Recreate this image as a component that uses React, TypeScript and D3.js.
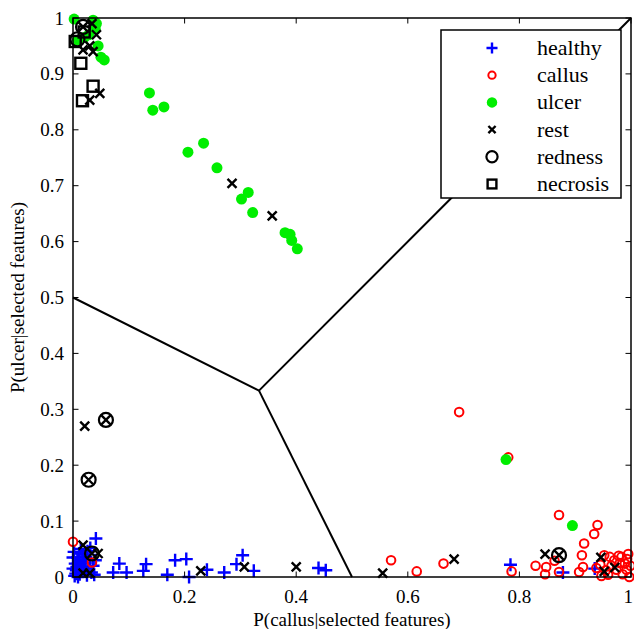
import * as d3 from "d3";

type Pt = [number, number];

const healthy: Pt[] = [
  [0.041, 0.069], [0.083, 0.024], [0.072, 0.008], [0.096, 0.008], [0.131, 0.023],
  [0.126, 0.011], [0.169, 0.004], [0.183, 0.03], [0.203, 0.032], [0.208, 0.0],
  [0.24, 0.013], [0.271, 0.008], [0.293, 0.023], [0.304, 0.039], [0.324, 0.011],
  [0.44, 0.016], [0.453, 0.012], [0.784, 0.022], [0.878, 0.008], [0.935, 0.015],
  [0.003, 0.002], [0.006, 0.012], [0.004, 0.024], [0.008, 0.035], [0.012, 0.005],
  [0.015, 0.018], [0.01, 0.028], [0.018, 0.04], [0.02, 0.01], [0.022, 0.025],
  [0.025, 0.003], [0.028, 0.015], [0.03, 0.032], [0.033, 0.008], [0.036, 0.02],
  [0.002, 0.045], [0.014, 0.05], [0.026, 0.046], [0.038, 0.004], [0.007, 0.018],
  [0.017, 0.031], [0.011, 0.042], [0.031, 0.052], [0.04, 0.03], [0.005, 0.006],
  [0.0, 0.015], [0.0, 0.035], [0.013, 0.022], [0.023, 0.036], [0.009, 0.0],
];

const callus: Pt[] = [
  [0.0, 0.063], [0.034, 0.026], [0.57, 0.03], [0.616, 0.01], [0.664, 0.024],
  [0.692, 0.295], [0.78, 0.214], [0.786, 0.01], [0.829, 0.02], [0.848, 0.018],
  [0.846, 0.005], [0.863, 0.029], [0.871, 0.009], [0.871, 0.111], [0.94, 0.093],
  [0.934, 0.077], [0.916, 0.06], [0.912, 0.039], [0.914, 0.018], [0.907, 0.009],
  [0.962, 0.036], [0.952, 0.039], [0.997, 0.0], [0.983, 0.036], [0.995, 0.041],
  [0.989, 0.024], [0.992, 0.013], [0.974, 0.013], [0.947, 0.002], [0.938, 0.016],
  [0.959, 0.004], [0.98, 0.025], [0.965, 0.02], [0.985, 0.005], [0.97, 0.03],
  [0.999, 0.02], [0.955, 0.012], [0.978, 0.038], [0.993, 0.032], [0.945, 0.022],
];

const ulcer: Pt[] = [
  [0.002, 0.998], [0.036, 0.996], [0.042, 0.99], [0.04, 0.98], [0.02, 0.965],
  [0.045, 0.95], [0.05, 0.93], [0.056, 0.925], [0.008, 0.96], [0.028, 0.97],
  [0.137, 0.866], [0.143, 0.835], [0.163, 0.841], [0.206, 0.76], [0.234, 0.776],
  [0.258, 0.732], [0.314, 0.688], [0.302, 0.676], [0.322, 0.652], [0.38, 0.616],
  [0.389, 0.613], [0.392, 0.602], [0.402, 0.587], [0.776, 0.21], [0.895, 0.092],
];

const rest: Pt[] = [
  [0.042, 0.97], [0.034, 0.99], [0.018, 0.943], [0.036, 0.94], [0.03, 0.95],
  [0.048, 0.865], [0.03, 0.853], [0.018, 0.984], [0.285, 0.704], [0.357, 0.646],
  [0.021, 0.27], [0.059, 0.281], [0.028, 0.174], [0.018, 0.057], [0.045, 0.042],
  [0.034, 0.042], [0.018, 0.007], [0.03, 0.007], [0.229, 0.011], [0.307, 0.018],
  [0.4, 0.018], [0.555, 0.007], [0.683, 0.032], [0.846, 0.041], [0.871, 0.039],
  [0.946, 0.035], [0.952, 0.01], [0.971, 0.017],
];

const redness: Pt[] = [
  [0.018, 0.984], [0.008, 0.962], [0.059, 0.281], [0.028, 0.174], [0.034, 0.042],
  [0.871, 0.039],
];

const necrosis: Pt[] = [
  [0.014, 0.919], [0.036, 0.878], [0.017, 0.852], [0.004, 0.958], [0.02, 0.975],
];

const boundaries: [Pt, Pt][] = [
  [[0, 0.5], [1 / 3, 1 / 3]],
  [[1 / 3, 1 / 3], [0.5, 0]],
  [[1 / 3, 1 / 3], [1, 1]],
];

const xTicks = [0, 0.2, 0.4, 0.6, 0.8, 1];
const yTicks = [0, 0.1, 0.2, 0.3, 0.4, 0.5, 0.6, 0.7, 0.8, 0.9, 1];
const legendNames = ["healthy", "callus", "ulcer", "rest", "redness", "necrosis"];

const W = 634;
const H = 629;
const margin = { top: 18, right: 3, bottom: 52, left: 73 };
const font = "Liberation Serif, Times New Roman, Times, DejaVu Serif, serif";

function Marker({ kind, x, y, s = 1 }: { kind: string; x: number; y: number; s?: number }) {
  if (kind === "healthy") {
    const r = 6.5 * s;
    return (
      <path d={`M${x - r},${y}H${x + r}M${x},${y - r}V${y + r}`} stroke="#0000ff" strokeWidth={2.4} fill="none" />
    );
  }
  if (kind === "callus") {
    return <circle cx={x} cy={y} r={4.3 * s} stroke="#ff0000" strokeWidth={2} fill="none" />;
  }
  if (kind === "ulcer") {
    return <circle cx={x} cy={y} r={5.5 * s} fill="#00ee00" />;
  }
  if (kind === "rest") {
    const r = 4.5 * s;
    return (
      <path d={`M${x - r},${y - r}L${x + r},${y + r}M${x - r},${y + r}L${x + r},${y - r}`} stroke="#000" strokeWidth={2.4} fill="none" />
    );
  }
  if (kind === "redness") {
    return <circle cx={x} cy={y} r={7 * s} stroke="#000" strokeWidth={2.2} fill="none" />;
  }
  const r = 5.5 * s;
  return <rect x={x - r} y={y - r} width={2 * r} height={2 * r} stroke="#000" strokeWidth={2.4} fill="none" />;
}

export default function App() {
  const x = d3.scaleLinear().domain([0, 1]).range([margin.left, W - margin.right]);
  const y = d3.scaleLinear().domain([0, 1]).range([H - margin.bottom, margin.top]);
  const line = d3.line<Pt>().x((d) => x(d[0])).y((d) => y(d[1]));
  const tl = 5.5;

  const series: [string, Pt[]][] = [
    ["healthy", healthy],
    ["callus", callus],
    ["ulcer", ulcer],
    ["rest", rest],
    ["redness", redness],
    ["necrosis", necrosis],
  ];

  const lg = { x: 441, y: 30, w: 180, h: 168 };
  const legendScale: Record<string, number> = {
    healthy: 0.85, callus: 0.85, ulcer: 0.95, rest: 0.8, redness: 0.8, necrosis: 0.8,
  };

  return (
    <svg width={W} height={H} style={{ position: "absolute", left: 0, top: 0, background: "#fff", fontFamily: font }}>
      <rect width={W} height={H} fill="#fff" />
      {boundaries.map((b, i) => (
        <path key={i} d={line(b) || ""} stroke="#000" strokeWidth={2} fill="none" />
      ))}
      {series.map(([name, pts]) => (
        <g key={name}>
          {pts.map((p, i) => (
            <Marker key={i} kind={name} x={x(p[0])} y={y(p[1])} />
          ))}
        </g>
      ))}
      {/* axes box */}
      <rect x={x(0)} y={y(1)} width={x(1) - x(0)} height={y(0) - y(1)} fill="none" stroke="#000" strokeWidth={1.5} />
      {xTicks.map((t) => (
        <g key={"x" + t}>
          <line x1={x(t)} x2={x(t)} y1={y(0)} y2={y(0) - tl} stroke="#000" />
          <line x1={x(t)} x2={x(t)} y1={y(1)} y2={y(1) + tl} stroke="#000" />
          <text
            x={t === 1 ? W - 1 : x(t)}
            y={y(0) + 26}
            textAnchor={t === 1 ? "end" : "middle"}
            fontSize={19}
          >
            {d3.format("~g")(t)}
          </text>
        </g>
      ))}
      {yTicks.map((t) => (
        <g key={"y" + t}>
          <line x1={x(0)} x2={x(0) + tl} y1={y(t)} y2={y(t)} stroke="#000" />
          <line x1={x(1)} x2={x(1) - tl} y1={y(t)} y2={y(t)} stroke="#000" />
          <text x={x(0) - 9} y={y(t) + 6.5} textAnchor="end" fontSize={19}>
            {d3.format("~g")(t)}
          </text>
        </g>
      ))}
      <text x={(x(0) + x(1)) / 2} y={626} textAnchor="middle" fontSize={19}>
        P(callus|selected features)
      </text>
      <text transform={`translate(24,${(y(0) + y(1)) / 2}) rotate(-90)`} textAnchor="middle" fontSize={19}>
        P(ulcer|selected features)
      </text>
      {/* legend */}
      <rect x={lg.x} y={lg.y} width={lg.w} height={lg.h} fill="#fff" stroke="#000" strokeWidth={1.5} />
      {legendNames.map((n, i) => {
        const cy = lg.y + 18 + i * 27.2;
        return (
          <g key={n}>
            <Marker kind={n} x={492} y={cy} s={legendScale[n]} />
            <text x={537} y={cy + 7} fontSize={22}>
              {n}
            </text>
          </g>
        );
      })}
    </svg>
  );
}
